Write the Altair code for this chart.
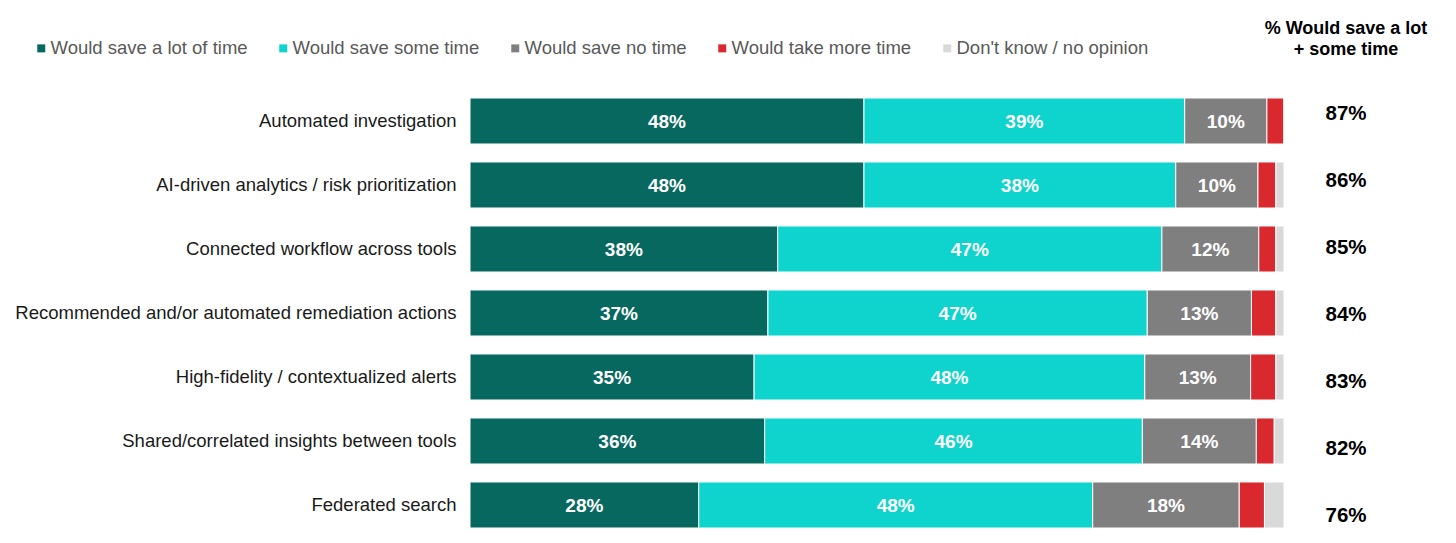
import altair as alt
import pandas as pd

categories = [
    "Automated investigation",
    "AI-driven analytics / risk prioritization",
    "Connected workflow across tools",
    "Recommended and/or automated remediation actions",
    "High-fidelity / contextualized alerts",
    "Shared/correlated insights between tools",
    "Federated search",
]
series = [
    "Would save a lot of time",
    "Would save some time",
    "Would save no time",
    "Would take more time",
    "Don't know / no opinion",
]
colors = ["#07685F", "#0FD4CD", "#7F7F7F", "#D9292F", "#D9D9D9"]

save_lot = [48.4, 48.4, 37.8, 36.6, 34.9, 36.2, 28.1]
save_some = [39.4, 38.3, 47.2, 46.6, 48.0, 46.4, 48.4]
save_none = [10.1, 10.1, 11.9, 12.8, 13.0, 14.0, 18.0]
more_time = [2.1, 2.2, 2.1, 3.0, 3.1, 2.2, 3.1]
dont_know = [0.0, 1.0, 1.0, 1.0, 1.0, 1.2, 2.4]
totals = ["87%", "86%", "85%", "84%", "83%", "82%", "76%"]
header = "% Would save a lot\n+ some time"

FONT = "Liberation Sans"

rows = []
for i, c in enumerate(categories):
    start = 0.0
    for s, vals in zip(series, [save_lot, save_some, save_none, more_time, dont_know]):
        v = vals[i]
        rows.append(dict(category=c, series=s, start=start, end=start + v,
                         mid=start + v / 2, label=f"{round(v)}%",
                         show=s in series[:3]))
        start += v
df = pd.DataFrame(rows)
df_tot = pd.DataFrame({"category": categories, "total": totals})
df_head = pd.DataFrame({"h": [header]})

yband = alt.Scale(paddingInner=0.281, paddingOuter=0)
yaxis = alt.Axis(title=None, domain=False, ticks=False, labelFontSize=18.5,
                 labelColor="#1a1a1a", labelPadding=14, labelLimit=460,
                 labelFont=FONT)
xscale = alt.Scale(domain=[0, 100], nice=False)

bars = alt.Chart(df).mark_bar(stroke="white", strokeWidth=1).encode(
    y=alt.Y("category:N", sort=categories, scale=yband, axis=yaxis),
    x=alt.X("start:Q", scale=xscale, axis=None),
    x2="end:Q",
    color=alt.Color("series:N", scale=alt.Scale(domain=series, range=colors),
                    legend=alt.Legend(title=None, orient="none", direction="horizontal",
                                      legendX=-438, legendY=-59, symbolType="square",
                                      symbolSize=64, symbolStrokeWidth=0,
                                      labelFontSize=18.5, labelColor="#595959",
                                      labelFont=FONT, labelLimit=400,
                                      columnPadding=26, labelOffset=0)),
)

texts = alt.Chart(df).transform_filter("datum.show").mark_text(
    color="white", fontWeight="bold", fontSize=19, font=FONT, dy=1
).encode(
    y=alt.Y("category:N", sort=categories, scale=yband, axis=yaxis),
    x=alt.X("mid:Q", scale=xscale, axis=None),
    text="label:N",
)

tots = alt.Chart(df_tot).mark_text(
    color="black", fontWeight="bold", fontSize=20.5, font=FONT, dy=2
).encode(
    y=alt.Y("category:N", sort=categories, scale=alt.Scale(type="point", padding=0.209), axis=None),
    x=alt.value(876),
    text="total:N",
)

head = alt.Chart(df_head).mark_text(
    color="black", fontWeight="bold", fontSize=18, font=FONT, lineBreak="\n", lineHeight=21
).encode(
    x=alt.value(876),
    y=alt.value(-69),
    text="h:N",
)

chart = alt.layer(alt.layer(bars, texts), tots, head).resolve_scale(y="independent").properties(
    width=814, height=430,
    autosize=alt.AutoSizeParams(type="none"),
    padding={"left": 462, "top": 90, "right": 164, "bottom": 0},
).configure_view(stroke=None)

chart.save("out.html", embed_options={"renderer": "svg", "actions": False})
